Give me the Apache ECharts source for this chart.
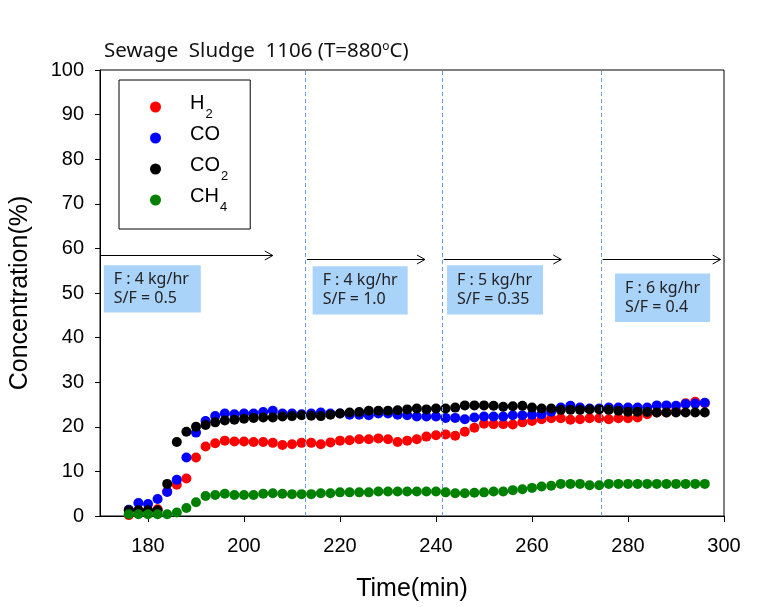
<!DOCTYPE html>
<html>
<head>
<meta charset="utf-8">
<script src="https://cdn.jsdelivr.net/npm/echarts@6/dist/echarts.min.js"></script>
<style>html,body{margin:0;padding:0;background:#fff}#c{width:761px;height:607px}</style>
</head>
<body>
<div id="c"></div>
<script>
// ---- data ----
var time = [176,178,180,182,184,186,188,190,192,194,196,198,200,202,204,206,208,210,212,214,
  216,218,220,222,224,226,228,230,232,234,236,238,240,242,244,246,248,250,252,254,256,
  258,260,262,264,266,268,270,272,274,276,278,280,282,284,286,288,290,292,294,296];
var h2 = [0.2,1.2,1.3,1.5,5.5,7.0,8.4,13.1,15.6,16.3,16.9,16.7,16.7,16.6,16.6,16.4,15.9,16.1,16.4,16.4,
  16.1,16.5,16.9,17.0,17.2,17.2,17.4,17.2,16.6,16.9,17.2,17.8,18.1,18.3,18.0,18.9,19.8,20.7,20.6,20.6,20.5,
  21.0,21.3,21.7,21.9,21.9,21.6,21.7,21.9,21.9,21.7,21.9,21.9,22.1,22.8,23.2,23.2,23.6,25.3,25.6,25.3];
var co = [1.4,2.9,2.7,3.8,5.4,8.1,13.1,18.7,21.3,22.4,23.0,22.8,23.0,23.0,23.3,23.6,23.0,23.0,22.8,23.0,
  23.2,23.0,23.0,22.7,22.7,22.6,23.0,23.0,22.7,22.6,22.3,22.3,22.3,22.0,22.0,21.7,22.1,22.3,22.3,22.3,22.6,
  22.6,22.7,22.8,23.4,24.3,24.7,24.3,24.1,24.1,24.3,24.3,24.3,24.3,24.3,24.8,24.8,24.7,25.1,25.2,25.4];
var co2 = [1.3,1.3,1.3,1.3,7.2,16.6,18.9,20.0,20.4,21.0,21.4,21.6,21.8,22.0,22.1,22.1,22.3,22.4,22.6,22.5,
  22.4,22.7,23.0,23.2,23.3,23.6,23.6,23.6,23.7,23.9,24.1,23.9,24.1,24.1,24.3,24.8,24.8,24.8,24.7,24.5,24.6,
  24.7,24.3,24.1,24.1,23.8,23.8,23.8,23.9,23.9,23.8,23.6,23.4,23.4,23.3,23.2,23.2,23.2,23.2,23.2,23.2];
var ch4 = [0.4,0.4,0.4,0.4,0.4,0.8,1.8,3.1,4.5,4.7,5.0,4.7,4.7,4.7,5.0,5.1,5.0,4.9,4.9,4.9,
  5.1,5.1,5.3,5.3,5.3,5.3,5.5,5.5,5.5,5.5,5.5,5.5,5.5,5.3,5.1,5.1,5.2,5.3,5.5,5.5,5.8,
  6.0,6.3,6.6,6.8,7.2,7.2,7.2,6.9,6.9,7.2,7.2,7.2,7.2,7.2,7.2,7.2,7.2,7.2,7.2,7.2];
var seriesNames = ['H2','CO','CO2','CH4'];
var xTicks = [180,200,220,240,260,280,300];
var phaseLines = [212.8,241.4,274.5];
var boxTexts = ['F : 4 kg/hr\nS/F = 0.5','F : 4 kg/hr\nS/F = 1.0','F : 5 kg/hr\nS/F = 0.35','F : 6 kg/hr\nS/F = 0.4'];

// ---- annotation placement (data units) ----
var boxAreas = [[170.8,191.0,56.2,45.6],[214.3,234.1,56.0,45.2],[242.3,262.3,56.2,45.2],[277.3,297.1,54.4,43.5]];
var arrows = [[170,206.0,58.5],[213.1,237.7,57.7],[241.6,266.1,57.7],[274.7,299.3,57.7]];

function zip(a){ return time.map(function(t,i){return [t,a[i]];}); }
var colors = ['#ff0000','#0000ff','#000000','#008000'];
var values = [h2,co,co2,ch4];
var subs = {'H2':'{b|H}{s|2}','CO':'{b|CO}{s| }','CO2':'{b|CO}{s|2}','CH4':'{b|CH}{s|4}'};
var FONT = 'Liberation Sans, Arial, sans-serif';
var KFONT = 'Noto Sans, sans-serif';

var series = seriesNames.map(function(n,i){
  return {name:n,type:'scatter',data:zip(values[i]),symbol:'circle',symbolSize:10,
    itemStyle:{color:colors[i],opacity:1},z:2+i,silent:true};
});
series[0].markLine = {silent:true,symbol:'none',label:{show:false},
  lineStyle:{type:[4,3],color:'#6b9bd2',width:1},
  data:phaseLines.map(function(v){return {xAxis:v};})};
series[0].markArea = {silent:true,
  data:boxAreas.map(function(b,i){
    return [{xAxis:b[0],yAxis:b[2],itemStyle:{color:'#aad3fa'},
      label:{show:true,position:'insideLeft',distance:10,formatter:boxTexts[i],
        fontFamily:KFONT,fontSize:16,lineHeight:19,color:'#222'}},
      {xAxis:b[1],yAxis:b[3]}];
  })};

var chart = echarts.init(document.getElementById('c'),null,{renderer:'canvas'});
chart.setOption({
  animation:false,
  backgroundColor:'#fff',
  title:{text:'{t|Sewage  Sludge  1106 (T=880}{u|o}{t|C)}',left:99,top:36,
    textStyle:{rich:{t:{fontFamily:KFONT,fontSize:20.5,fontWeight:'normal',color:'#111'},
      u:{fontFamily:KFONT,fontSize:12,fontWeight:'normal',color:'#111',verticalAlign:'top',padding:[0,0,8,0]}}}},
  grid:{left:100,right:37,top:70,bottom:90,show:true,borderColor:'#000',borderWidth:1,backgroundColor:'transparent'},
  legend:{orient:'vertical',left:119,top:80,borderColor:'#000',borderWidth:1,
    padding:[13,22,15,31],itemGap:3,itemWidth:11,itemHeight:11,icon:'circle',
    data:seriesNames,
    formatter:function(n){return subs[n];},
    textStyle:{fontFamily:FONT,color:'#000',rich:{
      b:{fontFamily:FONT,fontSize:20,color:'#000',padding:[0,0,0,24],lineHeight:28,verticalAlign:'top'},
      s:{fontFamily:FONT,fontSize:13,color:'#000',lineHeight:13,verticalAlign:'bottom',padding:[0,0,0,1]}}}},
  xAxis:{type:'value',min:170,max:300,
    name:'Time(min)',nameLocation:'middle',nameGap:61,
    nameTextStyle:{fontFamily:FONT,fontSize:25,color:'#000'},
    axisLine:{show:true,lineStyle:{color:'#000',width:1}},
    axisTick:{show:true,length:6,lineStyle:{color:'#000'},customValues:xTicks},
    axisLabel:{fontFamily:FONT,fontSize:20,color:'#000',margin:20,customValues:xTicks},
    splitLine:{show:false}},
  yAxis:{type:'value',min:0,max:100,interval:10,
    name:'Concentration(%)',nameLocation:'middle',nameGap:67,
    nameTextStyle:{fontFamily:FONT,fontSize:25,color:'#000'},
    axisLine:{show:true,lineStyle:{color:'#000',width:1}},
    axisTick:{show:true,length:5,lineStyle:{color:'#000'}},
    axisLabel:{fontFamily:FONT,fontSize:20,color:'#000',margin:16},
    splitLine:{show:false}},
  series:series
});

// arrows drawn from data coordinates
var g = [];
arrows.forEach(function(a){
  var p1 = chart.convertToPixel({gridIndex:0},[a[0],a[2]]);
  var p2 = chart.convertToPixel({gridIndex:0},[a[1],a[2]]);
  var y = Math.round(p1[1])+0.5;
  g.push({type:'line',shape:{x1:p1[0],y1:y,x2:p2[0],y2:y},style:{stroke:'#000',lineWidth:1},silent:true,z:10});
  g.push({type:'polyline',shape:{points:[[p2[0]-8,y-4.5],[p2[0],y],[p2[0]-8,y+4.5]]},style:{stroke:'#000',lineWidth:1,fill:null},silent:true,z:10});
});
chart.setOption({graphic:g});
</script>
</body>
</html>
